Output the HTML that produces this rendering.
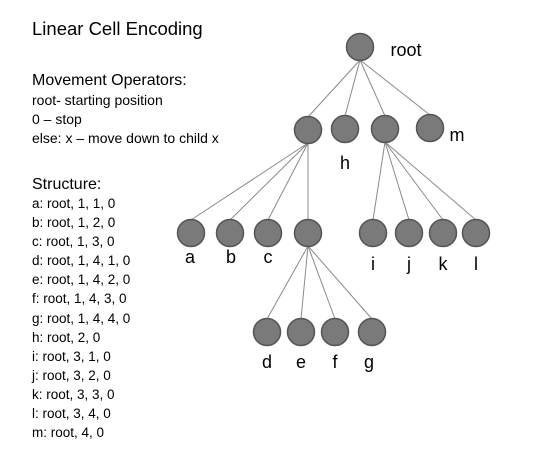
<!DOCTYPE html>
<html><head><meta charset="utf-8"><style>
html,body{margin:0;padding:0;background:#fff;}
svg{display:block;font-family:"Liberation Sans",sans-serif;}
</style></head><body>
<svg width="555" height="462" viewBox="0 0 555 462" xmlns="http://www.w3.org/2000/svg">
<g fill="#000">
<text x="32" y="35" font-size="18.5">Linear Cell Encoding</text>
<text x="32" y="85" font-size="16">Movement  Operators:</text>
<text x="32" y="105" font-size="14">root-  starting position</text>
<text x="32" y="124" font-size="14">0 – stop</text>
<text x="32" y="143" font-size="14">else: x – move down  to child x</text>
<text x="32" y="189" font-size="16">Structure:</text>
<g font-size="13.5">
<text x="32" y="208">a: root,  1, 1, 0</text>
<text x="32" y="227">b: root,  1, 2, 0</text>
<text x="32" y="246">c: root,  1, 3, 0</text>
<text x="32" y="265">d: root,  1, 4, 1, 0</text>
<text x="32" y="284">e: root,  1, 4, 2, 0</text>
<text x="32" y="303">f: root,  1, 4, 3, 0</text>
<text x="32" y="323">g: root,  1, 4, 4, 0</text>
<text x="32" y="342">h: root,  2, 0</text>
<text x="32" y="361">i: root,  3, 1, 0</text>
<text x="32" y="380">j: root,  3, 2, 0</text>
<text x="32" y="399">k: root,  3, 3, 0</text>
<text x="32" y="418">l: root,  3, 4, 0</text>
<text x="32" y="437">m: root,  4, 0</text>
</g>
</g>
<g stroke="#8a8a8a" stroke-width="1">
<line x1="360" y1="60" x2="308" y2="117"/>
<line x1="360" y1="60" x2="345" y2="116"/>
<line x1="360" y1="60" x2="385" y2="116"/>
<line x1="360" y1="60" x2="430" y2="115"/>
<line x1="308" y1="143" x2="191" y2="220"/>
<line x1="308" y1="143" x2="230" y2="220"/>
<line x1="308" y1="143" x2="268" y2="220"/>
<line x1="308" y1="143" x2="308" y2="220"/>
<line x1="385" y1="142" x2="373" y2="220"/>
<line x1="385" y1="142" x2="409" y2="220"/>
<line x1="385" y1="142" x2="443" y2="220"/>
<line x1="385" y1="142" x2="476" y2="220"/>
<line x1="308" y1="246" x2="267" y2="319"/>
<line x1="308" y1="246" x2="301" y2="319"/>
<line x1="308" y1="246" x2="335" y2="319"/>
<line x1="308" y1="246" x2="372" y2="319"/>
</g>
<g fill="#7a7a7a" stroke="#555" stroke-width="1.5">
<circle cx="360" cy="47" r="13.5"/>
<circle cx="308" cy="130" r="13.5"/>
<circle cx="345" cy="129" r="13.5"/>
<circle cx="385" cy="129" r="13.5"/>
<circle cx="430" cy="128" r="13.5"/>
<circle cx="191" cy="233" r="13.5"/>
<circle cx="230" cy="233" r="13.5"/>
<circle cx="268" cy="233" r="13.5"/>
<circle cx="308" cy="233" r="13.5"/>
<circle cx="373" cy="233" r="13.5"/>
<circle cx="409" cy="233" r="13.5"/>
<circle cx="443" cy="233" r="13.5"/>
<circle cx="476" cy="233" r="13.5"/>
<circle cx="267" cy="332" r="13.5"/>
<circle cx="301" cy="332" r="13.5"/>
<circle cx="335" cy="332" r="13.5"/>
<circle cx="372" cy="332" r="13.5"/>
</g>
<g fill="#000" font-size="18" text-anchor="middle">
<text x="406" y="56">root</text>
<text x="457" y="141">m</text>
<text x="345" y="169">h</text>
<text x="190" y="263">a</text>
<text x="231" y="263">b</text>
<text x="268" y="263">c</text>
<text x="373" y="270">i</text>
<text x="409" y="270">j</text>
<text x="443" y="270">k</text>
<text x="476" y="270">l</text>
<text x="267" y="368">d</text>
<text x="301" y="368">e</text>
<text x="335" y="368">f</text>
<text x="369" y="368">g</text>
</g>
</svg>
</body></html>
